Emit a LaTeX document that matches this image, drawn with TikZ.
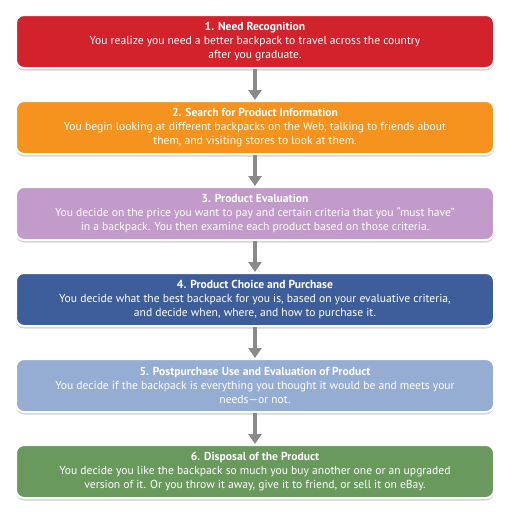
\documentclass[tikz,border=0pt]{standalone}
\usepackage{fontspec}
\setmainfont{PT Sans}
\usepackage{xcolor}
\usepackage{tikz}
\usetikzlibrary{positioning,shadows,arrows.meta}
\definecolor{stepred}{HTML}{D2232C}
\definecolor{steporange}{HTML}{F6921E}
\definecolor{steppurple}{HTML}{C29BCB}
\definecolor{stepblue}{HTML}{3E5E9B}
\definecolor{steplight}{HTML}{95ACD3}
\definecolor{stepgreen}{HTML}{6A995E}
\definecolor{arrgrey}{HTML}{8A8A8A}
\begin{document}
\begin{tikzpicture}[x=1pt,y=1pt,
      box/.style={rectangle,draw=white,line width=2pt,rounded corners=8pt,
                  minimum width=478pt,minimum height=53pt,inner sep=2pt,
                  align=center,text=white,
                  font=\fontsize{11.6}{13.6}\selectfont,
                  drop shadow={opacity=0.35,shadow xshift=0pt,shadow yshift=-2.5pt}},
      arr/.style={-{Triangle[width=13pt,length=10pt]},line width=4.5pt,arrgrey},
      node distance=31pt]
    \useasboundingbox (0,0) rectangle (510,-512);
    %% ── Steps, top to bottom ─────────────────────────────────
    \node[box,fill=stepred]    (need)     at (255,-41.5) {\textbf{1. Need Recognition}\\
      You realize you need a better backpack to travel across the country\\
      after you graduate.};
    \node[box,fill=steporange] (search)   [below=of need]   {\textbf{2. Search for Product Information}\\
      You begin looking at different backpacks on the Web, talking to friends about\\
      them, and visiting stores to look at them.};
    \node[box,fill=steppurple] (evaluate) [below=of search] {\textbf{3. Product Evaluation}\\
      You decide on the price you want to pay and certain criteria that you “must have”\\
      in a backpack. You then examine each product based on those criteria.};
    \node[box,fill=stepblue]   (choice)   [below=of evaluate] {\textbf{4. Product Choice and Purchase}\\
      You decide what the best backpack for you is, based on your evaluative criteria,\\
      and decide when, where, and how to purchase it.};
    \node[box,fill=steplight]  (postuse)  [below=of choice] {\textbf{5. Postpurchase Use and Evaluation of Product}\\
      You decide if the backpack is everything you thought it would be and meets your\\
      needs—or not.};
    \node[box,fill=stepgreen]  (disposal) [below=of postuse] {\textbf{6. Disposal of the Product}\\
      You decide you like the backpack so much you buy another one or an upgraded\\
      version of it. Or you throw it away, give it to friend, or sell it on eBay.};
    %% ── Arrows ───────────────────────────────────────────────
    \draw[arr] (need)--(search);
    \draw[arr] (search)--(evaluate);
    \draw[arr] (evaluate)--(choice);
    \draw[arr] (choice)--(postuse);
    \draw[arr] (postuse)--(disposal);
  \end{tikzpicture}
\end{document}
